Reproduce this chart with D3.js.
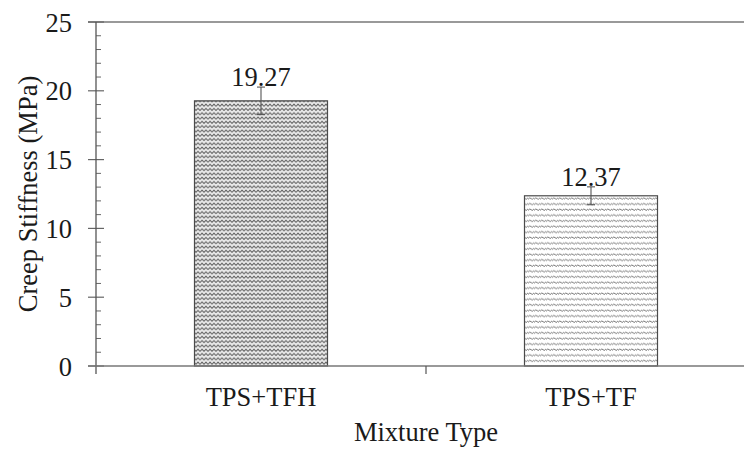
<!DOCTYPE html>
<html>
<head>
<meta charset="utf-8">
<script src="https://cdn.jsdelivr.net/npm/d3@7"></script>
<style>
  body { margin: 0; background: #fff; }
  svg text { font-family: "Liberation Serif", "Times New Roman", serif; fill: #1a1a1a; }
</style>
</head>
<body>
<script>
'use strict';

const categories = ["TPS+TFH", "TPS+TF"];
const stiffness = [19.27, 12.37];
const errors = [1.0, 0.65];
const yTicks = [0, 5, 10, 15, 20, 25];
const patterns = ["wave", "squiggle"];

const width = 744, height = 451;
const x0 = 96, x1 = 756, yTop = 22, yBottom = 366;
const fontSize = "26.5px";

let svg = d3.select("body").append("svg")
    .attr("width", width)
    .attr("height", height);

let defs = svg.append("defs");

// dense gray zig-zag for the first bar
let p1 = defs.append("pattern")
    .attr("id", "wave")
    .attr("patternUnits", "userSpaceOnUse")
    .attr("width", 8).attr("height", 4.3);
p1.append("rect").attr("width", 8).attr("height", 4.3).attr("fill", "#e8e8e8");
p1.append("path")
    .attr("d", "M0,3 L2,1 L4,3 L6,1 L8,3")
    .attr("fill", "none").attr("stroke", "#5e5e5e").attr("stroke-width", 1.05);

// lighter slanted squiggle for the second bar
let p2 = defs.append("pattern")
    .attr("id", "squiggle")
    .attr("patternUnits", "userSpaceOnUse")
    .attr("width", 6).attr("height", 5.6);
p2.append("rect").attr("width", 6).attr("height", 5.6).attr("fill", "#fff");
p2.append("path")
    .attr("d", "M0,3.5 Q1.5,0.5 3,2.5 T6,1.5")
    .attr("fill", "none").attr("stroke", "#6a6a6a").attr("stroke-width", 0.9);

let x = d3.scaleBand().domain(categories).range([x0, x1]).paddingInner(0).paddingOuter(0);
let y = d3.scaleLinear().domain([0, 25]).range([yBottom, yTop]);

// frame: top line and base line run to the right edge
svg.append("line")
    .attr("x1", x0 - 8).attr("x2", width).attr("y1", y(25)).attr("y2", y(25))
    .attr("stroke", "#777").attr("stroke-width", 1.4);

// minor ticks
let minor = d3.range(0, 25, 1).filter(v => v % 5 !== 0);
svg.selectAll(".minor").data(minor).enter().append("line")
    .attr("x1", x0).attr("x2", x0 + 5)
    .attr("y1", d => y(d)).attr("y2", d => y(d))
    .attr("stroke", "#666").attr("stroke-width", 1);

// y axis with crossing major ticks
let yAxis = svg.append("g")
    .attr("transform", `translate(${x0},0)`)
    .call(d3.axisLeft(y).tickValues(yTicks).tickSize(0).tickFormat(d3.format("d")));
yAxis.select(".domain").remove();
yAxis.selectAll("text")
    .attr("x", -24)
    .attr("dy", "0.34em")
    .style("font-size", fontSize);

svg.selectAll(".major").data(yTicks).enter().append("line")
    .attr("x1", x0 - 8).attr("x2", x0 + 8)
    .attr("y1", d => y(d)).attr("y2", d => y(d))
    .attr("stroke", "#666").attr("stroke-width", 1.2);

svg.append("line")
    .attr("x1", x0).attr("x2", x0).attr("y1", yTop).attr("y2", yBottom + 8)
    .attr("stroke", "#555").attr("stroke-width", 1.3);

// bars
let barW = 133;
svg.selectAll(".bar").data(categories).enter().append("rect")
    .attr("x", d => x(d) + x.bandwidth() / 2 - barW / 2)
    .attr("y", (d, i) => y(stiffness[i]))
    .attr("width", barW)
    .attr("height", (d, i) => y(0) - y(stiffness[i]))
    .attr("fill", (d, i) => `url(#${patterns[i]})`)
    .attr("stroke", "#4a4a4a").attr("stroke-width", 1.2);

// x axis baseline and category separator tick
svg.append("line")
    .attr("x1", x0 - 8).attr("x2", width).attr("y1", yBottom).attr("y2", yBottom)
    .attr("stroke", "#777").attr("stroke-width", 1.4);
svg.append("line")
    .attr("x1", x(categories[1])).attr("x2", x(categories[1]))
    .attr("y1", yBottom).attr("y2", yBottom + 8)
    .attr("stroke", "#555").attr("stroke-width", 1.2);

// error bars
let cap = 4;
categories.forEach((c, i) => {
    let cx = x(c) + x.bandwidth() / 2;
    let g = svg.append("g").attr("stroke", "#555").attr("stroke-width", 1.1);
    g.append("line").attr("x1", cx).attr("x2", cx)
        .attr("y1", y(stiffness[i] + errors[i])).attr("y2", y(stiffness[i] - errors[i]));
    [stiffness[i] + errors[i], stiffness[i] - errors[i]].forEach(v => {
        g.append("line").attr("x1", cx - cap).attr("x2", cx + cap)
            .attr("y1", y(v)).attr("y2", y(v));
    });
    svg.append("text")
        .attr("x", cx)
        .attr("y", y(stiffness[i] + errors[i]) - 1)
        .attr("text-anchor", "middle")
        .style("font-size", fontSize)
        .text(stiffness[i].toFixed(2));
});

// category labels
svg.selectAll(".cat").data(categories).enter().append("text")
    .attr("x", d => x(d) + x.bandwidth() / 2)
    .attr("y", 406)
    .attr("text-anchor", "middle")
    .style("font-size", fontSize)
    .text(d => d);

// axis titles
svg.append("text")
    .attr("x", 426).attr("y", 441)
    .attr("text-anchor", "middle")
    .style("font-size", fontSize)
    .text("Mixture Type");

svg.append("text")
    .attr("transform", `translate(37,${(yTop + yBottom) / 2}) rotate(-90)`)
    .attr("text-anchor", "middle")
    .style("font-size", fontSize)
    .text("Creep Stiffness (MPa)");
</script>
</body>
</html>
